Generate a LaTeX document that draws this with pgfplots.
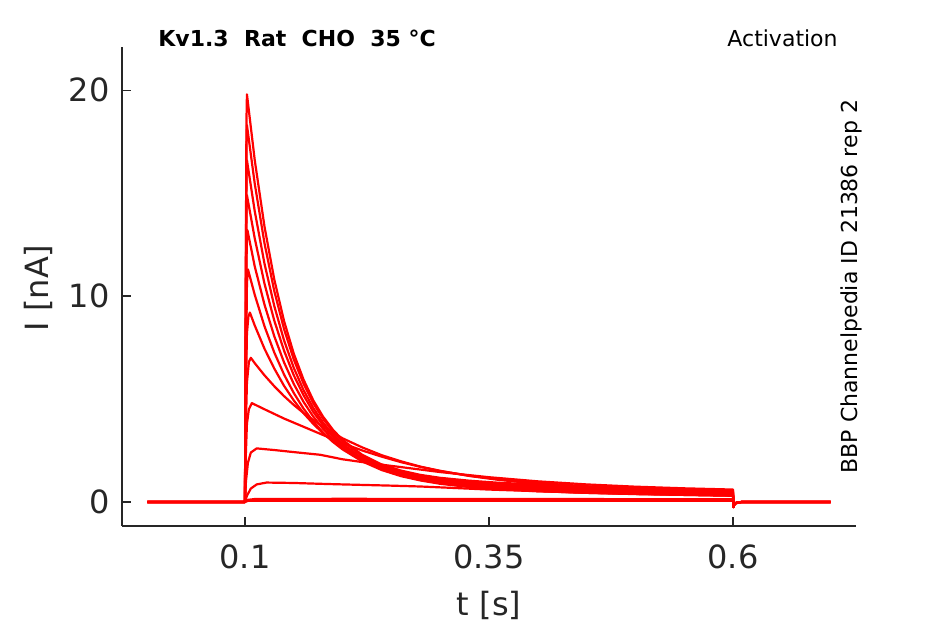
\documentclass[border=0pt]{standalone}
\usepackage{pgfplots}
\pgfplotsset{compat=1.18}
\usepackage{fontspec}
\setmainfont{DejaVu Sans}
\definecolor{axgray}{HTML}{262626}
\tikzset{tr/.style={red, line width=1.1pt, line join=round, mark=none}}
\begin{document}
\begin{tikzpicture}
\path[use as bounding box] (0pt,0pt) rectangle (472.5pt,312pt);
\begin{axis}[
  at={(61pt,49pt)}, anchor=south west,
  scale only axis, width=367pt, height=239.5pt,
  xmin=-0.026, xmax=0.726, ymin=-1.17, ymax=22.1,
  axis x line=bottom, axis y line=left,
  axis line style={axgray, line width=0.75pt, -},
  xtick={0.1,0.35,0.6}, xticklabels={0.1,0.35,0.6},
  ytick={0,10,20}, yticklabels={0,10,20},
  tick align=inside, major tick length=4.3pt,
  tick style={axgray, line width=0.6pt},
  ticklabel style={font=\fontsize{16}{19}\selectfont, text=axgray},
  xticklabel style={yshift=-5.8pt},
  yticklabel style={xshift=-2.7pt},
  xlabel={t [s]}, ylabel={I [nA]},
  label style={font=\fontsize{16}{19}\selectfont, text=axgray},
  xlabel style={at={(axis description cs:0.5,-0.1868)}, anchor=base},
  ylabel style={at={(axis description cs:-0.1003,0.497)}, anchor=base},
]
% trace 1
\addplot[tr] coordinates {(0,0)(0.1,0)(0.1007,10)(0.1015,18.5)(0.102,19.8)(0.11,16.60)(0.12,13.37)(0.13,10.81)(0.14,8.79)(0.15,7.20)(0.16,5.94)(0.17,4.93)(0.18,4.14)(0.19,3.51)(0.2,3.01)(0.22,2.29)(0.24,1.82)(0.26,1.52)(0.28,1.31)(0.3,1.17)(0.33,1.03)(0.36,0.93)(0.4,0.84)(0.45,0.75)(0.5,0.68)(0.55,0.61)(0.6,0.55)(0.6004,-0.25)(0.6015,-0.1)(0.604,-0.03)(0.61,0)(0.7,0)};
% trace 2
\addplot[tr] coordinates {(0,0)(0.1,0)(0.1007,9)(0.1015,17.2)(0.102,18.3)(0.11,15.46)(0.12,12.56)(0.13,10.25)(0.14,8.40)(0.15,6.92)(0.16,5.74)(0.17,4.79)(0.18,4.04)(0.19,3.42)(0.2,2.94)(0.22,2.23)(0.24,1.76)(0.26,1.45)(0.28,1.24)(0.3,1.10)(0.33,0.95)(0.36,0.85)(0.4,0.76)(0.45,0.67)(0.5,0.61)(0.55,0.55)(0.6,0.50)(0.6004,-0.25)(0.6015,-0.1)(0.604,-0.03)(0.61,0)(0.7,0)};
% trace 3
\addplot[tr] coordinates {(0,0)(0.1,0)(0.1007,8)(0.1015,15.6)(0.102,16.6)(0.11,14.12)(0.12,11.57)(0.13,9.52)(0.14,7.85)(0.15,6.51)(0.16,5.43)(0.17,4.56)(0.18,3.85)(0.19,3.28)(0.2,2.82)(0.22,2.13)(0.24,1.68)(0.26,1.37)(0.28,1.16)(0.3,1.02)(0.33,0.87)(0.36,0.78)(0.4,0.68)(0.45,0.60)(0.5,0.54)(0.55,0.49)(0.6,0.44)(0.6004,-0.25)(0.6015,-0.1)(0.604,-0.03)(0.61,0)(0.7,0)};
% trace 4
\addplot[tr] coordinates {(0,0)(0.1,0)(0.1007,7.2)(0.1015,14.0)(0.102,14.9)(0.11,12.80)(0.12,10.60)(0.13,8.81)(0.14,7.35)(0.15,6.15)(0.16,5.18)(0.17,4.37)(0.18,3.72)(0.19,3.18)(0.2,2.74)(0.22,2.08)(0.24,1.63)(0.26,1.32)(0.28,1.10)(0.3,0.95)(0.33,0.80)(0.36,0.70)(0.4,0.61)(0.45,0.53)(0.5,0.47)(0.55,0.43)(0.6,0.39)(0.6004,-0.25)(0.6015,-0.1)(0.604,-0.03)(0.61,0)(0.7,0)};
% trace 5
\addplot[tr] coordinates {(0,0)(0.1,0)(0.1007,6.4)(0.1018,12.6)(0.1025,13.2)(0.11,11.44)(0.12,9.58)(0.13,8.05)(0.14,6.78)(0.15,5.73)(0.16,4.86)(0.17,4.14)(0.18,3.55)(0.19,3.05)(0.2,2.64)(0.22,2.02)(0.24,1.58)(0.26,1.28)(0.28,1.07)(0.3,0.91)(0.33,0.75)(0.36,0.66)(0.4,0.56)(0.45,0.49)(0.5,0.43)(0.55,0.39)(0.6,0.35)(0.6004,-0.25)(0.6015,-0.1)(0.604,-0.03)(0.61,0)(0.7,0)};
% trace 6
\addplot[tr] coordinates {(0,0)(0.1,0)(0.1008,5.5)(0.102,10.6)(0.103,11.3)(0.11,10.06)(0.12,8.53)(0.13,7.26)(0.14,6.19)(0.15,5.29)(0.16,4.53)(0.17,3.90)(0.18,3.37)(0.19,2.92)(0.2,2.55)(0.22,1.97)(0.24,1.55)(0.26,1.25)(0.28,1.04)(0.3,0.88)(0.33,0.72)(0.36,0.62)(0.4,0.52)(0.45,0.44)(0.5,0.39)(0.55,0.35)(0.6,0.31)(0.6004,-0.25)(0.6015,-0.1)(0.604,-0.03)(0.61,0)(0.7,0)};
% trace 7
\addplot[tr] coordinates {(0,0)(0.1,0)(0.1008,5.0)(0.102,8.2)(0.1035,9.0)(0.105,9.2)(0.11,8.57)(0.12,7.44)(0.13,6.48)(0.14,5.64)(0.15,4.93)(0.16,4.31)(0.17,3.79)(0.18,3.33)(0.19,2.94)(0.2,2.61)(0.22,2.06)(0.24,1.66)(0.26,1.36)(0.28,1.13)(0.3,0.96)(0.33,0.77)(0.36,0.65)(0.4,0.53)(0.45,0.44)(0.5,0.38)(0.55,0.34)(0.6,0.30)(0.6004,-0.25)(0.6015,-0.1)(0.604,-0.03)(0.61,0)(0.7,0)};
% trace 8
\addplot[tr] coordinates {(0,0)(0.1,0)(0.1008,3.5)(0.102,5.8)(0.104,6.8)(0.106,7.0)(0.11,6.74)(0.12,6.15)(0.13,5.62)(0.14,5.14)(0.15,4.71)(0.16,4.32)(0.17,3.97)(0.18,3.65)(0.19,3.36)(0.2,3.09)(0.22,2.65)(0.24,2.27)(0.26,1.97)(0.28,1.71)(0.3,1.51)(0.33,1.26)(0.36,1.07)(0.4,0.88)(0.45,0.71)(0.5,0.59)(0.55,0.50)(0.6,0.44)(0.6004,-0.25)(0.6015,-0.1)(0.604,-0.03)(0.61,0)(0.7,0)};
% trace 9
\addplot[tr] coordinates {(0,0)(0.1,0)(0.1008,2.2)(0.102,3.8)(0.104,4.5)(0.107,4.8)(0.12,4.5)(0.14,4.05)(0.165,3.55)(0.18,3.25)(0.2,2.85)(0.22,2.5)(0.24,2.2)(0.26,1.93)(0.28,1.7)(0.3,1.5)(0.33,1.27)(0.36,1.1)(0.4,0.92)(0.45,0.76)(0.5,0.64)(0.55,0.55)(0.6,0.48)(0.6004,-0.25)(0.6015,-0.1)(0.604,-0.03)(0.61,0)(0.7,0)};
% trace 10
\addplot[tr] coordinates {(0,0)(0.1,0)(0.101,1.0)(0.103,1.9)(0.106,2.4)(0.112,2.6)(0.13,2.52)(0.15,2.42)(0.177,2.29)(0.2,2.07)(0.23,1.87)(0.26,1.69)(0.3,1.45)(0.35,1.2)(0.4,1.0)(0.45,0.85)(0.5,0.74)(0.55,0.66)(0.6,0.6)(0.6004,-0.25)(0.6015,-0.1)(0.604,-0.03)(0.61,0)(0.7,0)};
% trace 11
\addplot[tr] coordinates {(0,0)(0.1,0)(0.102,0.3)(0.106,0.65)(0.112,0.85)(0.122,0.94)(0.15,0.92)(0.177,0.88)(0.2,0.85)(0.25,0.79)(0.279,0.75)(0.313,0.68)(0.35,0.6)(0.4,0.52)(0.45,0.45)(0.5,0.39)(0.55,0.34)(0.6,0.3)(0.6004,-0.25)(0.6015,-0.1)(0.604,-0.03)(0.61,0)(0.7,0)};
% trace 12
\addplot[tr] coordinates {(0,0)(0.1,0)(0.103,0.1)(0.11,0.14)(0.2,0.15)(0.4,0.14)(0.6,0.13)(0.6004,-0.2)(0.6015,-0.08)(0.604,-0.03)(0.61,0)(0.7,0)};
% trace 13
\addplot[tr] coordinates {(0,0)(0.1,0)(0.103,0.05)(0.3,0.06)(0.6,0.06)(0.6004,-0.2)(0.6015,-0.08)(0.61,0)(0.7,0)};
\end{axis}
\node[anchor=base west, inner sep=0, font=\fontsize{11}{13}\selectfont\bfseries] at (79pt,288.6pt) {Kv1.3\ \ Rat\ \ CHO\ \ 35\ °C};
\node[anchor=base east, inner sep=0, font=\fontsize{11}{13}\selectfont] at (419pt,288.6pt) {Activation};
\node[rotate=90, anchor=base, inner sep=0, font=\fontsize{11}{13}\selectfont] at (428.7pt,168.7pt) {BBP Channelpedia ID 21386 rep 2};
\end{tikzpicture}
\end{document}
